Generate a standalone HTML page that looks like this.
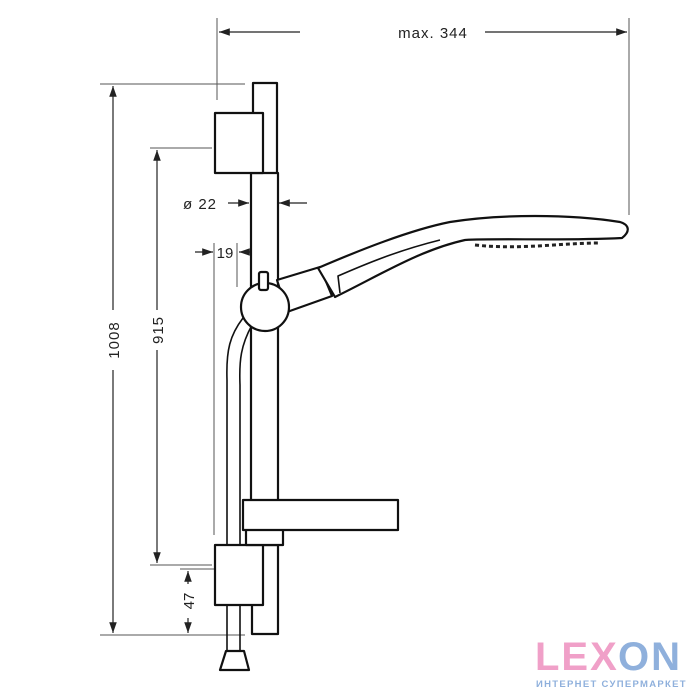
<!DOCTYPE html>
<html><head><style>
html,body{margin:0;padding:0;background:#fff;width:700px;height:700px;overflow:hidden}
svg{display:block}
text{font-family:"Liberation Sans",sans-serif;fill:#222}
</style></head><body>
<svg width="700" height="700" viewBox="0 0 700 700" xmlns="http://www.w3.org/2000/svg">
<defs>
<marker id="a" viewBox="0 0 10 10" refX="10" refY="5" markerWidth="9" markerHeight="9" orient="auto-start-reverse"><path d="M0,1.5 L10,5 L0,8.5z" fill="#222"/></marker>
</defs>
<g stroke="#555" stroke-width="1" fill="none">
<!-- extension lines -->
<line x1="217" y1="18" x2="217" y2="100"/>
<line x1="629" y1="18" x2="629" y2="215"/>
<line x1="100" y1="84" x2="245" y2="84"/>
<line x1="100" y1="635" x2="245" y2="635"/>
<line x1="150" y1="148" x2="212" y2="148"/>
<line x1="150" y1="565" x2="212" y2="565"/>
<line x1="180" y1="569" x2="248" y2="569"/>
<line x1="214" y1="243" x2="214" y2="535"/>
<line x1="237" y1="243" x2="237" y2="287"/>
</g>
<g stroke="#222" stroke-width="1.2" fill="none">
<line x1="300" y1="32" x2="219" y2="32" marker-end="url(#a)"/>
<line x1="485" y1="32" x2="627" y2="32" marker-end="url(#a)"/>
<line x1="113" y1="86" x2="113" y2="310" marker-start="url(#a)"/>
<line x1="113" y1="370" x2="113" y2="633" marker-end="url(#a)"/>
<line x1="157" y1="150" x2="157" y2="310" marker-start="url(#a)"/>
<line x1="157" y1="350" x2="157" y2="563" marker-end="url(#a)"/>
<line x1="188" y1="584" x2="188" y2="571" marker-end="url(#a)"/>
<line x1="188" y1="618" x2="188" y2="633" marker-end="url(#a)"/>
<line x1="228" y1="203" x2="249" y2="203" marker-end="url(#a)"/>
<line x1="307" y1="203" x2="279" y2="203" marker-end="url(#a)"/>
<line x1="195" y1="252" x2="213" y2="252" marker-end="url(#a)"/>
<line x1="260" y1="252" x2="239" y2="252" marker-end="url(#a)"/>
</g>
<text x="433" y="38" font-size="15" text-anchor="middle" letter-spacing="1">max. 344</text>
<text x="200" y="209" font-size="15" text-anchor="middle" letter-spacing="1">ø 22</text>
<text x="225" y="258" font-size="15" text-anchor="middle">19</text>
<text transform="translate(119,340) rotate(-90)" font-size="15" text-anchor="middle" letter-spacing="1">1008</text>
<text transform="translate(163,330) rotate(-90)" font-size="15" text-anchor="middle" letter-spacing="1">915</text>
<text transform="translate(194,601) rotate(-90)" font-size="15" text-anchor="middle">47</text>
<g stroke="#111" stroke-width="2.2" fill="#fff" stroke-linejoin="round">
<!-- hose -->
<path d="M243,318 C230,335 226,350 227,380 L227,652" fill="none" stroke-width="1.6"/>
<path d="M252,325 C241,345 239,360 240,385 L240,652" fill="none" stroke-width="1.6"/>
<path d="M226,651 L244,651 L249,670 L220,670 Z"/>
<!-- rail -->
<rect x="253" y="83" width="24" height="92"/>
<rect x="251" y="173" width="27" height="328"/>
<rect x="252" y="545" width="26" height="89"/>
<rect x="215" y="113" width="48" height="60"/>
<rect x="215" y="545" width="48" height="60"/>
<rect x="246" y="528" width="37" height="17"/>
<rect x="243" y="500" width="155" height="30"/>
<!-- arm -->
<path d="M277,280 L320,267 L332,296 L287,312 Z"/>
<circle cx="265" cy="307" r="24"/>
<rect x="259" y="272" width="9" height="18" rx="2"/>
<!-- handshower -->
<path d="M318,268 C360,250 410,230 450,222 C500,214 570,214 620,222 C630,225 630,232 622,238 C560,241 500,238 465,240 C420,250 380,275 335,297 Z"/>
<path d="M340,293 L338,276 C370,262 400,250 440,240" fill="none" stroke-width="1.6"/>
</g>
<path d="M475,245 C520,250 560,243 600,243" stroke="#222" stroke-width="3" stroke-dasharray="4,3" fill="none"/>
<text x="535" y="670" font-size="40" font-weight="bold" fill="#f0a0c8" style="fill:#f0a0c8" letter-spacing="2">LEX</text>
<text x="618" y="670" font-size="40" font-weight="bold" style="fill:#8fb0dc" letter-spacing="2">ON</text>
<text x="536" y="687" font-size="9.5" font-weight="bold" style="fill:#8fb0dc" letter-spacing="1.3">ИНТЕРНЕТ СУПЕРМАРКЕТ</text>
</svg>
</body></html>
